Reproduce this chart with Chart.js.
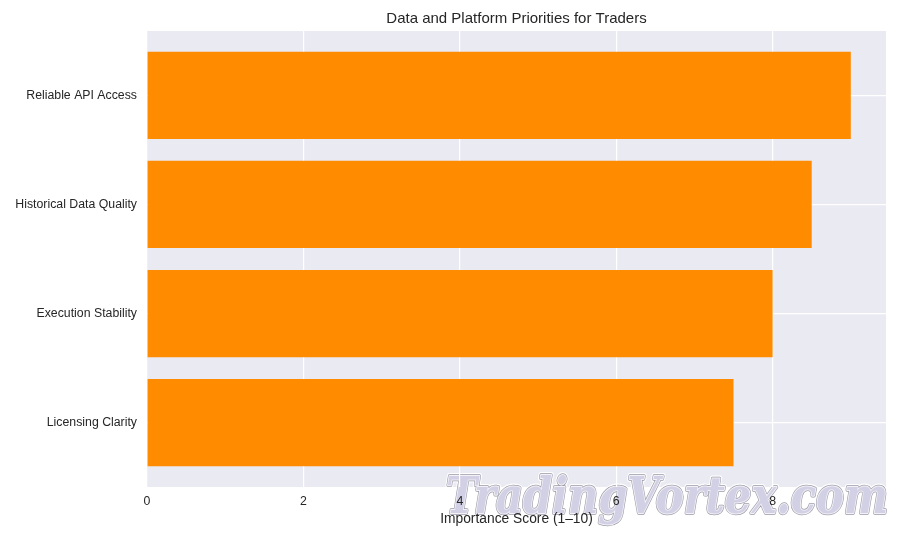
<!DOCTYPE html>
<html>
<head>
<meta charset="utf-8">
<script src="https://cdn.jsdelivr.net/npm/chart.js@4.4.0/dist/chart.umd.min.js"></script>
<style>
html, body { margin: 0; padding: 0; background: #fff; }
</style>
</head>
<body>
<canvas id="chart" width="900" height="540"></canvas>
<script>
// datos del grafico
const categories = ['Licensing Clarity', 'Execution Stability', 'Historical Data Quality', 'Reliable API Access'];
const scores = [7.5, 8.0, 8.5, 9.0];
const xTicks = [0, 2, 4, 6, 8];
const chartTitle = 'Data and Platform Priorities for Traders';
const xLabel = 'Importance Score (1–10)';
const watermark = 'TradingVortex.com';

Chart.defaults.font.family = '"Liberation Sans", Arial, sans-serif';
Chart.defaults.color = '#262626';

// fondo del area, marca de agua y titulo
const decor = {
  id: 'decor',
  beforeDraw(chart) {
    const { ctx, chartArea: a } = chart;
    ctx.save();
    ctx.fillStyle = '#ffffff';
    ctx.fillRect(0, 0, chart.width, chart.height);
    ctx.fillStyle = '#EAEAF2';
    ctx.fillRect(a.left, a.top, a.right - a.left, a.bottom - a.top);

    ctx.font = 'italic bold 50px "DejaVu Serif"';
    const w = ctx.measureText(watermark).width;
    ctx.translate(446, 513);
    ctx.scale(442 / w, 1);
    ctx.lineJoin = 'round';
    ctx.strokeStyle = 'rgba(255,255,255,0.95)';
    ctx.lineWidth = 6;
    ctx.strokeText(watermark, 0, 0);
    ctx.strokeStyle = '#9a9aa8';
    ctx.lineWidth = 3.5;
    ctx.strokeText(watermark, 0, 0);
    ctx.strokeStyle = '#f4f2f6';
    ctx.lineWidth = 2;
    ctx.strokeText(watermark, 0, 0);
    ctx.fillStyle = '#d2d0e4';
    ctx.fillText(watermark, 0, 0);
    ctx.restore();
  },
  afterDraw(chart) {
    const { ctx, chartArea: a } = chart;
    ctx.save();
    ctx.font = '15px "Liberation Sans", Arial, sans-serif';
    ctx.fillStyle = '#262626';
    ctx.textAlign = 'center';
    ctx.textBaseline = 'middle';
    ctx.fillText(chartTitle, (a.left + a.right) / 2, 19);
    ctx.restore();
  }
};

new Chart(document.getElementById('chart'), {
  type: 'bar',
  data: {
    datasets: [{
      data: scores.map((v, i) => ({ x: v, y: i })),
      backgroundColor: '#FF8C00',
      borderWidth: 0,
      barPercentage: 0.8,
      categoryPercentage: 1
    }]
  },
  options: {
    indexAxis: 'y',
    responsive: false,
    animation: false,
    layout: { padding: { top: 31, right: 14, left: 0, bottom: 0 } },
    plugins: {
      legend: { display: false },
      tooltip: { enabled: false }
    },
    scales: {
      x: {
        type: 'linear',
        position: 'bottom',
        min: 0,
        max: 9.45,
        afterBuildTicks: s => { s.ticks = xTicks.map(v => ({ value: v })); },
        afterFit: s => { s.height = 53; },
        grid: { color: '#ffffff', lineWidth: 1.2, drawTicks: false },
        border: { display: false },
        ticks: { padding: 7, font: { size: 12.3 } },
        title: { display: true, text: xLabel, font: { size: 13.8 }, padding: { top: 0, bottom: 13 } }
      },
      y: {
        type: 'linear',
        min: -0.59,
        max: 3.59,
        offset: false,
        afterBuildTicks: s => { s.ticks = categories.map((c, i) => ({ value: i })); },
        afterFit: s => { s.width = 147; },
        grid: { color: '#ffffff', lineWidth: 1.2, drawTicks: false, offset: false },
        border: { display: false },
        ticks: {
          padding: 10,
          font: { size: 12.3 },
          callback: v => categories[v]
        }
      }
    }
  },
  plugins: [decor]
});
</script>
</body>
</html>
